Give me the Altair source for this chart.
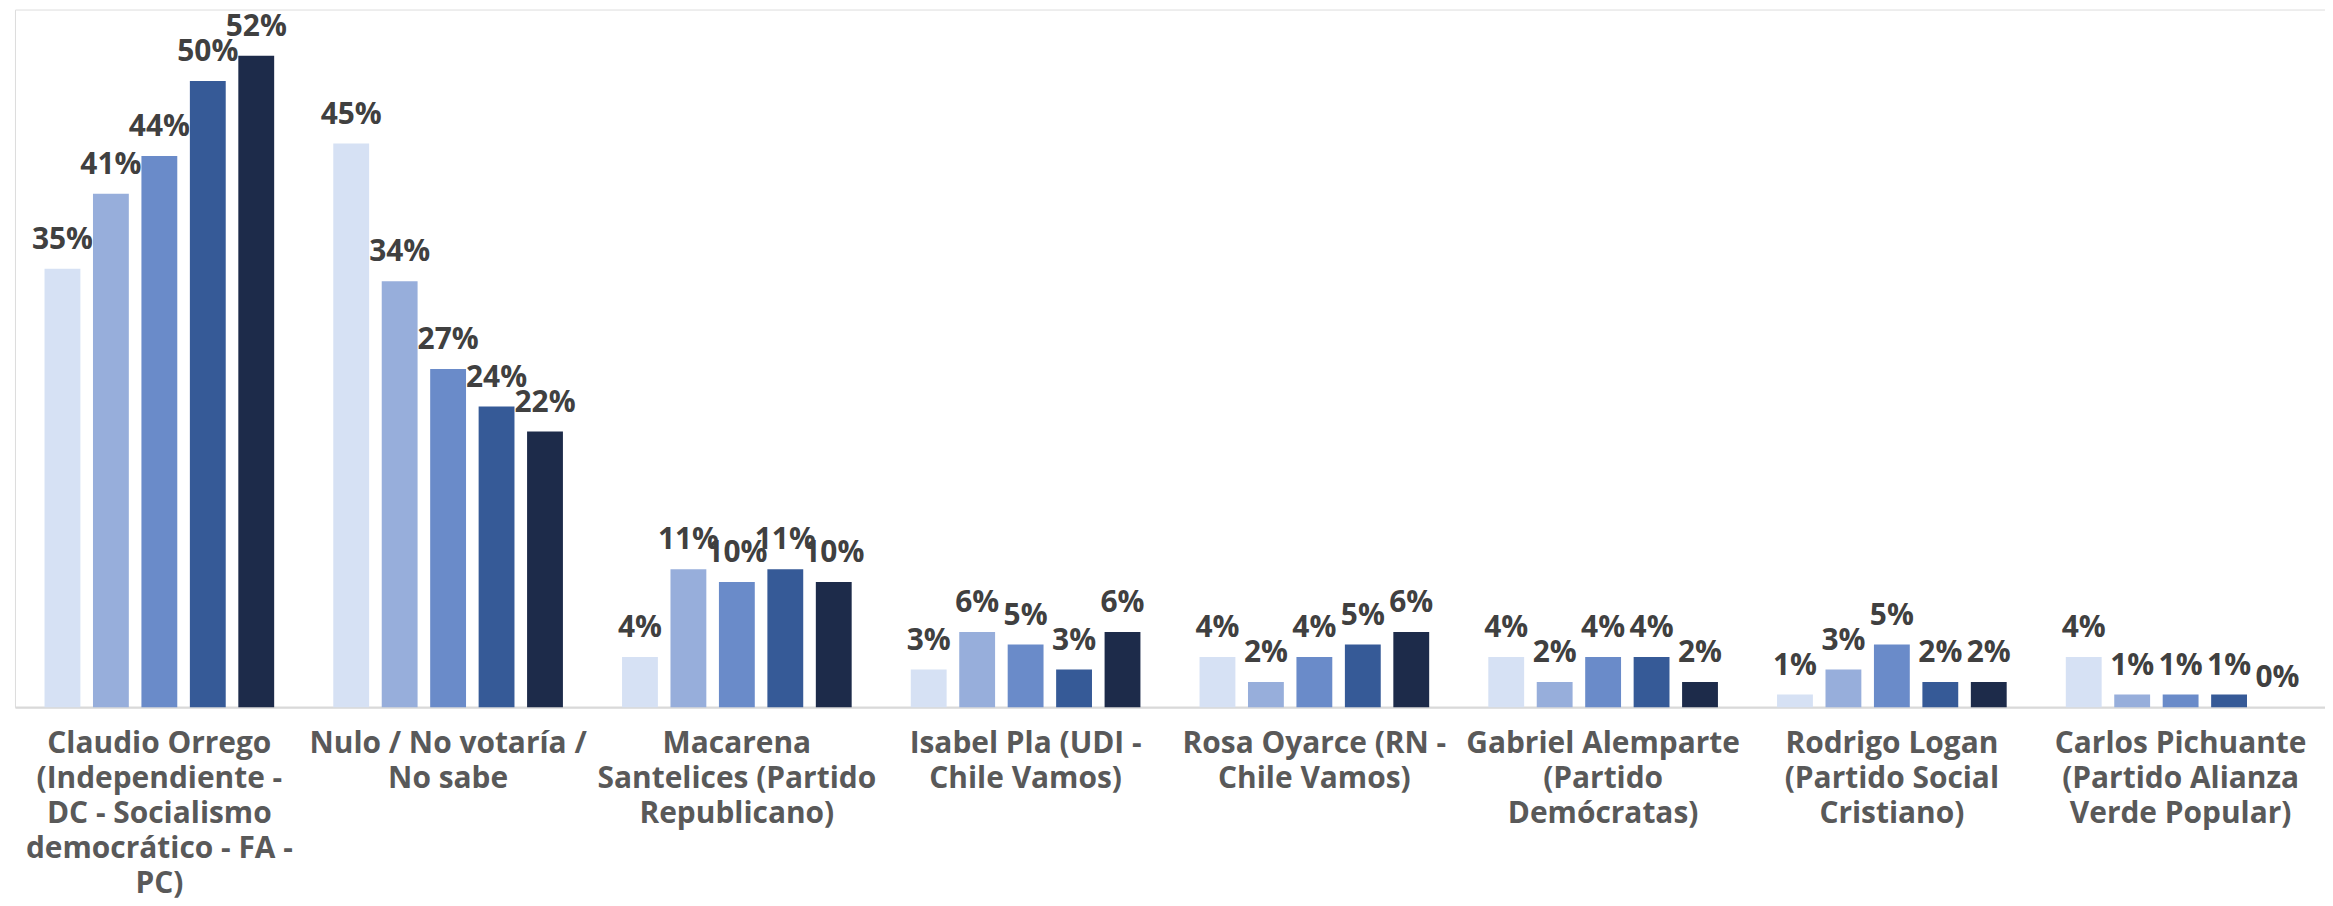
import altair as alt
import pandas as pd

categories = [
    "Claudio Orrego|(Independiente -|DC - Socialismo|democrático - FA -|PC)",
    "Nulo / No votaría /|No sabe",
    "Macarena|Santelices (Partido|Republicano)",
    "Isabel Pla (UDI -|Chile Vamos)",
    "Rosa Oyarce (RN -|Chile Vamos)",
    "Gabriel Alemparte|(Partido|Demócratas)",
    "Rodrigo Logan|(Partido Social|Cristiano)",
    "Carlos Pichuante|(Partido Alianza|Verde Popular)",
]
series = ["Medición 1", "Medición 2", "Medición 3", "Medición 4", "Medición 5"]
values = {
    "Medición 1": [35, 45, 4, 3, 4, 4, 1, 4],
    "Medición 2": [41, 34, 11, 6, 2, 2, 3, 1],
    "Medición 3": [44, 27, 10, 5, 4, 4, 5, 1],
    "Medición 4": [50, 24, 11, 3, 5, 4, 2, 1],
    "Medición 5": [52, 22, 10, 6, 6, 2, 2, 0],
}
colors = ["#D6E1F4", "#97AEDB", "#6A8BC9", "#365A97", "#1D2B4A"]

rows = []
for s in series:
    for c, v in zip(categories, values[s]):
        rows.append({"cat": c, "serie": s, "val": v, "lbl": f"{v}%"})
df = pd.DataFrame(rows)

FONT = "Open Sans"

x = alt.X(
    "cat:N",
    sort=categories,
    scale=alt.Scale(paddingInner=0, paddingOuter=0),
    axis=alt.Axis(
        title=None,
        labelAngle=0,
        labelExpr="split(datum.label, '|')",
        labelFont=FONT,
        labelFontSize=30,
        labelFontWeight="bold",
        labelColor="#595959",
        labelLineHeight=35,
        labelBaseline="top",
        labelPadding=22,
        labelLimit=400,
        ticks=False,
        domainColor="#D9D9D9",
        domainWidth=2.5,
        grid=False,
    ),
)
xo = alt.XOffset(
    "serie:N",
    sort=series,
    scale=alt.Scale(paddingInner=0.26, paddingOuter=0.61),
)
y = alt.Y(
    "val:Q",
    scale=alt.Scale(domain=[0, 55.7], nice=False),
    axis=None,
)
color = alt.Color(
    "serie:N",
    sort=series,
    scale=alt.Scale(domain=series, range=colors),
    legend=None,
)

base = alt.Chart(df).encode(x=x, xOffset=xo, y=y)
bars = base.mark_bar().encode(color=color)
text = base.mark_text(
    font=FONT, fontSize=30, fontWeight="bold", color="#404040",
    baseline="alphabetic", dy=-20,
).encode(text="lbl:N")

chart = (
    (bars + text)
    .properties(width=2318, height=700, padding={"left": 7, "top": 0, "right": 0, "bottom": 0})
    .configure_view(strokeWidth=0, stroke="transparent")
    .configure(background="white")
)

chart.save("out.html", embed_options={"renderer": "svg", "actions": False})
